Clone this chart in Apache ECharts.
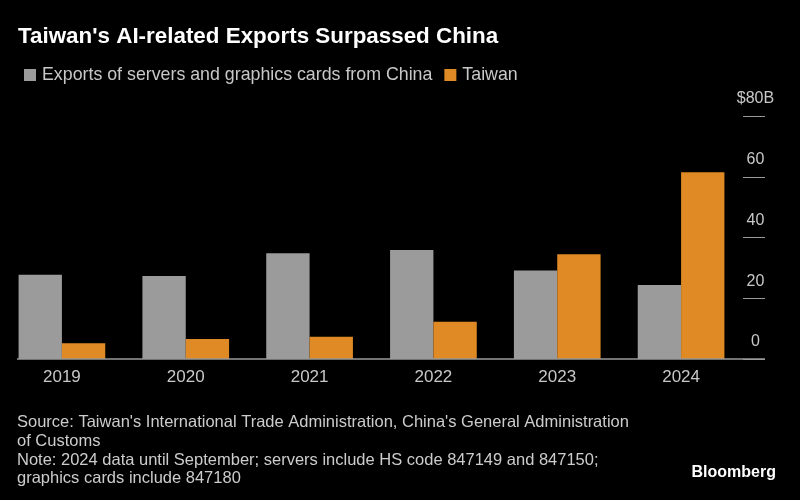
<!DOCTYPE html>
<html>
<head>
<meta charset="utf-8">
<script src="https://cdn.jsdelivr.net/npm/echarts@6/dist/echarts.min.js"></script>
<style>
html,body{margin:0;padding:0;background:#000;}
#chart{width:800px;height:500px;}
</style>
</head>
<body>
<div id="chart"></div>
<script>
const years = ['2019', '2020', '2021', '2022', '2023', '2024'];
const chinaExports = [27.7, 27.3, 34.8, 35.9, 29.1, 24.4];
const taiwanExports = [5.2, 6.6, 7.3, 12.3, 34.5, 61.5];
const seriesNames = ['Exports of servers and graphics cards from China', 'Taiwan'];
const yTicks = [0, 20, 40, 60, 80];

const FONT = '"Liberation Sans", "Helvetica Neue", Arial, sans-serif';
const chart = echarts.init(document.getElementById('chart'), null, {renderer: 'canvas'});

const footerLines = [
  "Source: Taiwan's International Trade Administration, China's General Administration",
  "of Customs",
  "Note: 2024 data until September; servers include HS code 847149 and 847150;",
  "graphics cards include 847180"
];
const footerY = [422, 441, 460, 478];

const option = {
  backgroundColor: '#000',
  animation: false,
  textStyle: {fontFamily: FONT},
  legend: {
    left: 19, top: 61,
    itemWidth: 12, itemHeight: 12, itemGap: 12,
    icon: 'rect',
    textStyle: {color: '#c8c8c8', fontSize: 17.8, fontFamily: FONT, padding: [0, 0, 0, 1]},
    data: seriesNames
  },
  grid: {left: -1, right: 57, top: 116, bottom: 141, containLabel: false},
  xAxis: {
    type: 'category',
    data: years,
    axisLine: {show: false},
    axisTick: {show: false},
    axisLabel: {color: '#c8c8c8', fontSize: 17, margin: 10, fontFamily: FONT}
  },
  yAxis: {
    type: 'value',
    position: 'right',
    min: yTicks[0], max: yTicks[yTicks.length - 1], interval: 20,
    splitLine: {show: false},
    axisLine: {show: false},
    axisTick: {show: true, length: 22, inside: false, lineStyle: {color: '#9a9a9a', width: 1}},
    axisLabel: {
      color: '#c8c8c8', fontSize: 16, fontFamily: FONT,
      align: 'center', verticalAlign: 'bottom', lineHeight: 34, margin: 12.5,
      formatter: v => v === 80 ? '$80B' : String(v)
    }
  },
  series: [
    {
      name: seriesNames[0], type: 'bar', data: chinaExports,
      itemStyle: {color: '#9b9b9b'},
      barGap: '0%', barCategoryGap: '30%'
    },
    {
      name: seriesNames[1], type: 'bar', data: taiwanExports,
      itemStyle: {color: '#e08a25'},
      barGap: '0%', barCategoryGap: '30%'
    }
  ]
};
chart.setOption(option);

const baseY = chart.convertToPixel({yAxisIndex: 0}, 0);
const graphics = [
  {
    type: 'line', z: 5,
    shape: {x1: 17, y1: baseY, x2: 765, y2: baseY},
    style: {stroke: '#9a9a9a', lineWidth: 1.5}
  },
  {
    type: 'text', left: 18, top: 26,
    style: {text: "Taiwan's AI-related Exports Surpassed China", fill: '#ffffff',
      font: 'bold 22.4px ' + FONT}
  },
  {
    type: 'text', right: 24, top: 465,
    style: {text: 'Bloomberg', fill: '#ffffff', font: 'bold 16px ' + FONT}
  }
];
footerLines.forEach((t, i) => {
  graphics.push({
    type: 'text', left: 17, top: footerY[i] - 8,
    style: {text: t, fill: '#cccccc', font: '16.5px ' + FONT}
  });
});
chart.setOption({graphic: graphics});
</script>
</body>
</html>
